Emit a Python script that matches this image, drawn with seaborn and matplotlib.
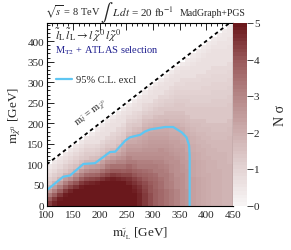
import numpy as np
import pandas as pd
import matplotlib
matplotlib.use("Agg")
import matplotlib.pyplot as plt
from matplotlib.colors import LinearSegmentedColormap, ListedColormap
from matplotlib.ticker import MultipleLocator
import seaborn as sns

# ---------------- data ----------------
# lower edges of the slepton-mass bins (GeV); neutralino bins start at 0 GeV, 10 GeV wide
slepton_bins = [100, 110, 120, 130, 140, 150, 160, 170, 180, 190, 200, 210,
                220, 230, 240, 250, 260, 270, 280, 290, 300, 310, 320, 330,
                340, 350, 360, 370, 380, 390, 400, 410, 420, 430, 440]
neutralino_bin_width = 10

# N sigma per slepton-mass column, listed from m_chi = 0 upward to the diagonal
nsigma = [
    [4.3, 3.9, 3.2, 2.4, 1.8, 1.4, 1.1, 0.8, 0.6, 0.4],
    [4.7, 4.4, 3.8, 3.1, 2.4, 1.8, 1.4, 1.1, 0.8, 0.6, 0.4],
    [5, 4.8, 4.4, 3.8, 3.1, 2.4, 1.8, 1.4, 1.1, 0.8, 0.6, 0.4],
    [5, 5, 4.8, 4.4, 3.8, 3.1, 2.4, 1.8, 1.4, 1.1, 0.8, 0.6, 0.4],
    [5, 5, 5, 4.7, 4.2, 3.6, 2.8, 2.0, 1.6, 1.3, 1.0, 0.8, 0.6, 0.4],
    [5, 5, 5, 4.9, 4.5, 4.0, 3.3, 2.6, 1.9, 1.5, 1.2, 1.0, 0.8, 0.6, 0.4],
    [5, 5, 5, 5, 4.8, 4.4, 3.8, 3.1, 2.5, 1.9, 1.5, 1.2, 1.0, 0.8, 0.6, 0.4],
    [5, 5, 5, 5, 5, 4.6, 4.1, 3.5, 2.9, 2.3, 1.8, 1.4, 1.2, 1.0, 0.8, 0.6, 0.4],
    [5, 5, 5, 5, 5, 4.7, 4.2, 3.6, 3.0, 2.4, 1.8, 1.5, 1.2, 1.0, 0.8, 0.6, 0.5, 0.3],
    [5, 5, 5, 5, 5, 4.8, 4.3, 3.7, 3.1, 2.5, 1.9, 1.6, 1.3, 1.1, 0.9, 0.7, 0.6, 0.5, 0.3],
    [5, 5, 5, 5, 5, 5, 4.5, 4.0, 3.4, 2.8, 2.3, 1.8, 1.5, 1.3, 1.1, 0.9, 0.7, 0.6, 0.5, 0.3],
    [5, 5, 5, 5, 5, 5, 4.7, 4.2, 3.7, 3.2, 2.7, 2.2, 1.8, 1.5, 1.3, 1.1, 0.9, 0.7, 0.6, 0.5, 0.3],
    [5, 5, 5, 5, 5, 5, 4.8, 4.4, 3.9, 3.4, 2.9, 2.4, 2.0, 1.7, 1.4, 1.2, 1.0, 0.9, 0.7, 0.6, 0.5, 0.3],
    [5, 5, 5, 5, 5, 5, 4.7, 4.3, 3.9, 3.4, 3.0, 2.6, 2.2, 1.9, 1.6, 1.4, 1.2, 1.0, 0.9, 0.7, 0.6, 0.5, 0.3],
    [4.9, 5, 5, 5, 5, 4.9, 4.6, 4.2, 3.8, 3.4, 3.0, 2.7, 2.4, 2.2, 2.0, 1.7, 1.4, 1.2, 1.0, 0.8, 0.7, 0.6, 0.5, 0.3],
    [5, 5, 5, 5, 4.9, 4.7, 4.5, 4.2, 3.9, 3.6, 3.3, 3.0, 2.8, 2.5, 2.3, 2.1, 1.9, 1.6, 1.4, 1.2, 1.0, 0.8, 0.7, 0.5, 0.3],
    [4.9, 4.9, 4.9, 4.8, 4.7, 4.5, 4.3, 4.0, 3.7, 3.4, 3.2, 2.9, 2.7, 2.5, 2.3, 2.1, 2.0, 1.8, 1.5, 1.3, 1.1, 0.9, 0.8, 0.6, 0.5, 0.3],
    [4.7, 4.7, 4.7, 4.6, 4.5, 4.3, 4.1, 3.8, 3.6, 3.3, 3.1, 2.9, 2.7, 2.5, 2.3, 2.2, 2.1, 1.9, 1.6, 1.4, 1.2, 1.0, 0.9, 0.7, 0.6, 0.5, 0.3],
    [4.4, 4.4, 4.4, 4.3, 4.2, 4.1, 3.9, 3.7, 3.5, 3.3, 3.1, 2.9, 2.7, 2.6, 2.4, 2.3, 2.2, 2.1, 1.9, 1.7, 1.5, 1.3, 1.1, 0.9, 0.8, 0.6, 0.5, 0.3],
    [4.1, 4.1, 4.1, 4.0, 4.0, 3.9, 3.7, 3.6, 3.4, 3.2, 3.1, 2.9, 2.7, 2.6, 2.5, 2.4, 2.3, 2.2, 2.0, 1.8, 1.6, 1.4, 1.2, 1.0, 0.9, 0.7, 0.6, 0.5, 0.3],
    [3.8, 3.8, 3.8, 3.8, 3.7, 3.7, 3.6, 3.5, 3.3, 3.2, 3.0, 2.9, 2.8, 2.6, 2.5, 2.4, 2.3, 2.2, 2.1, 1.9, 1.7, 1.5, 1.3, 1.2, 1.0, 0.9, 0.7, 0.6, 0.5, 0.3],
    [3.6, 3.6, 3.6, 3.6, 3.5, 3.5, 3.4, 3.3, 3.2, 3.1, 3.0, 2.9, 2.8, 2.7, 2.5, 2.4, 2.3, 2.2, 2.1, 1.9, 1.7, 1.6, 1.4, 1.3, 1.1, 1.0, 0.9, 0.7, 0.6, 0.5, 0.3],
    [3.4, 3.4, 3.4, 3.4, 3.3, 3.3, 3.2, 3.2, 3.1, 3.0, 2.9, 2.8, 2.7, 2.6, 2.5, 2.4, 2.3, 2.2, 2.1, 1.9, 1.8, 1.6, 1.5, 1.3, 1.2, 1.1, 0.9, 0.8, 0.7, 0.6, 0.5, 0.3],
    [3.2, 3.2, 3.2, 3.2, 3.1, 3.1, 3.0, 3.0, 2.9, 2.9, 2.8, 2.7, 2.6, 2.5, 2.4, 2.3, 2.2, 2.1, 2.0, 1.9, 1.7, 1.6, 1.5, 1.3, 1.2, 1.1, 1.0, 0.9, 0.8, 0.7, 0.6, 0.5, 0.3],
    [3.0, 3.0, 3.0, 3.0, 2.9, 2.9, 2.9, 2.8, 2.8, 2.7, 2.7, 2.6, 2.5, 2.4, 2.3, 2.3, 2.2, 2.1, 2.0, 1.9, 1.7, 1.6, 1.5, 1.4, 1.3, 1.2, 1.1, 1.0, 0.9, 0.8, 0.7, 0.6, 0.5, 0.3],
    [2.8, 2.8, 2.8, 2.8, 2.7, 2.7, 2.7, 2.7, 2.6, 2.6, 2.5, 2.5, 2.4, 2.4, 2.3, 2.2, 2.1, 2.1, 2.0, 1.8, 1.7, 1.6, 1.5, 1.4, 1.3, 1.2, 1.1, 1.0, 0.9, 0.8, 0.8, 0.7, 0.6, 0.5, 0.3],
    [2.6, 2.6, 2.6, 2.6, 2.5, 2.5, 2.5, 2.5, 2.5, 2.4, 2.4, 2.3, 2.3, 2.2, 2.2, 2.1, 2.0, 1.9, 1.8, 1.7, 1.6, 1.5, 1.4, 1.3, 1.2, 1.2, 1.1, 1.0, 0.9, 0.9, 0.8, 0.7, 0.6, 0.5, 0.4, 0.3],
    [2.3, 2.3, 2.3, 2.3, 2.3, 2.3, 2.3, 2.2, 2.2, 2.2, 2.2, 2.1, 2.1, 2.0, 2.0, 1.9, 1.9, 1.8, 1.7, 1.6, 1.5, 1.4, 1.4, 1.3, 1.2, 1.1, 1.1, 1.0, 0.9, 0.9, 0.8, 0.7, 0.7, 0.6, 0.5, 0.4, 0.3],
    [2.2, 2.2, 2.2, 2.2, 2.2, 2.2, 2.2, 2.1, 2.1, 2.1, 2.1, 2.0, 2.0, 1.9, 1.9, 1.8, 1.8, 1.7, 1.6, 1.6, 1.5, 1.4, 1.3, 1.3, 1.2, 1.1, 1.1, 1.0, 0.9, 0.9, 0.8, 0.8, 0.7, 0.6, 0.6, 0.5, 0.4, 0.3],
    [2.1, 2.1, 2.1, 2.1, 2.1, 2.1, 2.1, 2.0, 2.0, 2.0, 2.0, 1.9, 1.9, 1.9, 1.8, 1.8, 1.7, 1.7, 1.6, 1.5, 1.5, 1.4, 1.3, 1.3, 1.2, 1.1, 1.1, 1.0, 1.0, 0.9, 0.9, 0.8, 0.7, 0.7, 0.6, 0.6, 0.5, 0.4, 0.3],
    [2.0, 2.0, 2.0, 2.0, 2.0, 2.0, 2.0, 2.0, 1.9, 1.9, 1.9, 1.9, 1.8, 1.8, 1.8, 1.7, 1.7, 1.6, 1.6, 1.5, 1.4, 1.4, 1.3, 1.3, 1.2, 1.1, 1.1, 1.0, 1.0, 0.9, 0.9, 0.8, 0.8, 0.7, 0.7, 0.6, 0.6, 0.5, 0.4, 0.3],
    [1.95, 1.95, 1.95, 1.95, 1.95, 1.95, 1.95, 1.95, 1.9, 1.9, 1.9, 1.8, 1.8, 1.8, 1.7, 1.7, 1.6, 1.6, 1.5, 1.5, 1.4, 1.4, 1.3, 1.3, 1.2, 1.2, 1.1, 1.1, 1.0, 1.0, 0.9, 0.9, 0.8, 0.8, 0.7, 0.7, 0.6, 0.6, 0.5, 0.4, 0.3],
    [1.9, 1.9, 1.9, 1.9, 1.9, 1.9, 1.9, 1.9, 1.9, 1.8, 1.8, 1.8, 1.8, 1.7, 1.7, 1.7, 1.6, 1.6, 1.5, 1.5, 1.4, 1.4, 1.3, 1.3, 1.2, 1.2, 1.1, 1.1, 1.0, 1.0, 0.9, 0.9, 0.8, 0.8, 0.7, 0.7, 0.6, 0.6, 0.5, 0.5, 0.4, 0.3],
    [1.85, 1.85, 1.85, 1.85, 1.85, 1.85, 1.85, 1.85, 1.85, 1.8, 1.8, 1.8, 1.8, 1.7, 1.7, 1.7, 1.6, 1.6, 1.5, 1.5, 1.4, 1.4, 1.3, 1.3, 1.2, 1.2, 1.1, 1.1, 1.0, 1.0, 0.9, 0.9, 0.8, 0.8, 0.7, 0.7, 0.6, 0.6, 0.5, 0.5, 0.4, 0.4, 0.3],
    [1.8, 1.8, 1.8, 1.8, 1.8, 1.8, 1.8, 1.8, 1.8, 1.8, 1.75, 1.75, 1.75, 1.75, 1.7, 1.7, 1.7, 1.6, 1.6, 1.5, 1.5, 1.4, 1.4, 1.3, 1.3, 1.2, 1.2, 1.1, 1.1, 1.0, 1.0, 0.9, 0.9, 0.8, 0.8, 0.7, 0.7, 0.6, 0.6, 0.5, 0.5, 0.4, 0.4, 0.3],
]

# 95% C.L. exclusion contour
excl_slepton = [100, 131, 144, 169, 191, 219, 229, 248, 257, 276, 285, 295, 323, 338, 354, 363, 368, 369, 369]
excl_neutralino = [37, 70, 73, 101, 103, 130, 131, 158, 166, 172, 180, 185, 191, 191, 178, 166, 146, 120, 0]

# kinematic limit m_slepton = m_neutralino
diag_mass = [100, 450]

x_ticks = [100, 150, 200, 250, 300, 350, 400, 450]
y_ticks = [0, 50, 100, 150, 200, 250, 300, 350, 400]
cbar_ticks = [0, 1, 2, 3, 4, 5]

# ---------------- build table ----------------
rows = []
for x0, col in zip(slepton_bins, nsigma):
    for j, v in enumerate(col):
        rows.append((x0 + 5, j * neutralino_bin_width + 5, v))
df = pd.DataFrame(rows, columns=["m_slepton", "m_chi", "nsigma"])

# ---------------- style ----------------
sns.set_style("ticks")
plt.rcParams["font.family"] = ["Liberation Serif", "DejaVu Serif"]
plt.rcParams["mathtext.fontset"] = "stix"

base = LinearSegmentedColormap.from_list(
    "root_red",
    ["#f7f4f4", "#e3d3d3", "#cdaeae", "#b58787", "#995a5b", "#6a181c"])
cmap = ListedColormap(base(np.linspace(0, 1, 50)))

W, H = 291, 251
fig = plt.figure(figsize=(W / 100, H / 100), dpi=100)
ax = fig.add_axes([46.7 / W, 44.5 / H, 186 / W, 182.5 / H])
cax = fig.add_axes([233 / W, 44.5 / H, 14 / W, 182.5 / H])

sns.histplot(data=df, x="m_slepton", y="m_chi", weights="nsigma",
             binwidth=10, binrange=((100, 450), (0, 440)),
             cmap=cmap, vmin=0, vmax=5, cbar=True, cbar_ax=cax, ax=ax)

ax.plot(excl_slepton, excl_neutralino, color="#5ec6f2", lw=1.6,
        label="95% C.L. excl", solid_joinstyle="miter")
ax.plot(diag_mass, diag_mass, color="black", lw=1.3, ls=(0, (2, 1.8)))

ax.set_xlim(100, 450)
ax.set_ylim(0, 444)
ax.set_xticks(x_ticks)
ax.set_yticks(y_ticks)
ax.xaxis.set_minor_locator(MultipleLocator(10))
ax.yaxis.set_minor_locator(MultipleLocator(10))
ax.tick_params(which="both", direction="in", top=True, right=True,
               labelsize=8, width=0.6, color="black")
ax.tick_params(axis="x", pad=3.5)
ax.tick_params(axis="y", pad=2)
ax.tick_params(which="major", length=5)
ax.tick_params(which="minor", length=2.5)
for s in ax.spines.values():
    s.set_linewidth(0.8)
    s.set_color("black")

ax.set_xlabel(r"$\mathrm{m}_{\tilde{l}_{\mathrm{L}}}$ [GeV]", fontsize=9.5)
ax.set_ylabel(r"$\mathrm{m}_{\tilde{\chi}^{0}}$ [GeV]", fontsize=9.5)
ax.xaxis.set_label_coords(0.5, -0.105)
ax.yaxis.set_label_coords(-0.13, 0.5)

ax.text(0.045, 0.935,
        r"$\tilde{l}_{\mathrm{L}}\,\tilde{l}_{\mathrm{L}}\rightarrow l\,\tilde{\chi}^{0}\,l\,\tilde{\chi}^{0}$",
        transform=ax.transAxes, fontsize=8.5, ha="left", va="center")
ax.text(0.045, 0.855, r"M$_{\mathrm{T2}}$ + ATLAS selection",
        transform=ax.transAxes, fontsize=7.5, ha="left", va="center",
        color="#1f1f8f")
ax.text(184, 226, r"$\mathrm{m}_{\tilde{l}}$ = $\mathrm{m}_{\tilde{\chi}^{0}}$",
        rotation=45, transform_rotates_text=True, rotation_mode="anchor",
        ha="center", va="center", fontsize=7.5)

ax.legend(loc="center left", bbox_to_anchor=(0.05, 0.69), frameon=False,
          fontsize=7.5, handlelength=1.5, handletextpad=0.4,
          borderaxespad=0, borderpad=0)

fig.text(45 / W, 1 - 12 / H, r"$\sqrt{s}$ = 8 TeV", fontsize=7.5, ha="left", va="center")
fig.text(106.5 / W, 1 - 13 / H, r"$\int$", fontsize=13, ha="center", va="center")
fig.text(112 / W, 1 - 12 / H, r"$L\,dt$ = 20 fb$^{-1}$", fontsize=8, ha="left", va="center")
fig.text(246 / W, 1 - 13 / H, "MadGraph+PGS", fontsize=7, ha="right", va="center")

cax.set_yticks(cbar_ticks)
cax.minorticks_off()
cax.tick_params(direction="out", length=4, labelsize=8, right=True, left=False,
                width=0.6, pad=1)
cax.set_ylabel("N σ", fontsize=10, rotation=90)
cax.yaxis.set_label_coords(2.9, 0.5)
for s in cax.spines.values():
    s.set_visible(False)

fig.savefig("out.png", dpi=100)
